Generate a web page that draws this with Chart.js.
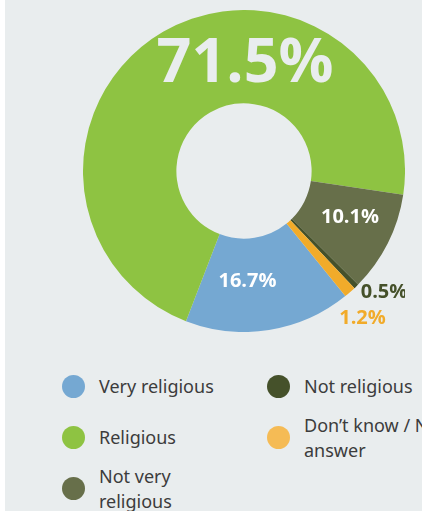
<!DOCTYPE html>
<html>
<head>
<meta charset="utf-8">
<script src="https://cdn.jsdelivr.net/npm/chart.js@4"></script>
<style>
    html, body { margin: 0; padding: 0; }
    body {
        width: 422px;
        height: 511px;
        overflow: hidden;
        background: #e9edee;
        position: relative;
        font-family: "Noto Sans", sans-serif;
    }
    .strip { position: absolute; left: 0; top: 0; width: 5px; height: 511px; background: #fff; }
    .chart-box { position: absolute; left: 83px; top: 10px; width: 322px; height: 322px; }
    .legend {
        position: absolute;
        left: 62px;
        top: 361px;
        display: grid;
        grid-auto-flow: column;
        grid-template-rows: repeat(3, 51px);
        grid-template-columns: 205px 200px;
    }
    .legend-item { display: flex; align-items: center; }
    .legend-item .dot { width: 23px; height: 23px; border-radius: 50%; flex: none; margin-right: 14px; }
    .legend-item .txt { font-size: 18px; line-height: 25px; color: #3c3c3c; max-width: 135px; }
    .legend-item.wide .txt { max-width: 160px; width: 160px; }
</style>
</head>
<body>
<div class="strip"></div>
<div class="chart-box"><canvas id="donut"></canvas></div>
<div class="legend" id="legend"></div>
<script>
// values (share of respondents, %)
const categories = ['Very religious', 'Religious', 'Not very religious', 'Not religious', 'Don\u2019t know / No answer'];
const shares = [16.7, 71.5, 10.1, 0.5, 1.2];
const sliceColors = ['#75a8d2', '#8ec342', '#676f4a', '#45512a', '#f1ab2a'];
const legendColors = ['#75a8d2', '#8ec342', '#676f4a', '#45512a', '#f5bb55'];
const valueLabels = ['16.7%', '71.5%', '10.1%', '0.5%', '1.2%'];

// where each value label sits, relative to the chart centre
const labelStyle = [
    { dx: 3.5, dy: 110, size: 20, color: '#ffffff' },
    { dx: 1, dy: -106, size: 61, color: '#e9edee' },
    { dx: 106, dy: 46, size: 20, color: '#ffffff' },
    { dx: 140, dy: 121.5, size: 20, color: '#45512a' },
    { dx: 118.5, dy: 147.5, size: 20, color: '#f1ab2a' }
];

const valueLabelPlugin = {
    id: 'valueLabels',
    afterDatasetsDraw(chart) {
        const ctx = chart.ctx;
        const arc = chart.getDatasetMeta(0).data[0];
        if (!arc) return;
        ctx.save();
        ctx.textAlign = 'center';
        ctx.textBaseline = 'middle';
        valueLabels.forEach((txt, i) => {
            const s = labelStyle[i];
            ctx.font = 'bold ' + s.size + 'px "Open Sans", sans-serif';
            ctx.fillStyle = s.color;
            ctx.fillText(txt, arc.x + s.dx, arc.y + s.dy);
        });
        ctx.restore();
    }
};

new Chart(document.getElementById('donut'), {
    type: 'doughnut',
    data: {
        labels: categories,
        datasets: [{
            data: shares,
            backgroundColor: sliceColors,
            borderWidth: 0
        }]
    },
    options: {
        responsive: true,
        maintainAspectRatio: false,
        animation: false,
        cutout: '42%',
        rotation: 141,
        layout: { padding: 0 },
        plugins: {
            legend: { display: false },
            tooltip: { enabled: false }
        }
    },
    plugins: [valueLabelPlugin]
});

// legend in two columns, filled top to bottom
const legendEl = document.getElementById('legend');
categories.forEach((name, i) => {
    const item = document.createElement('div');
    item.className = 'legend-item' + (i >= 3 ? ' wide' : '');
    item.innerHTML = '<span class="dot" style="background:' + legendColors[i] + '"></span><span class="txt">' + name + '</span>';
    legendEl.appendChild(item);
});
</script>
</body>
</html>
